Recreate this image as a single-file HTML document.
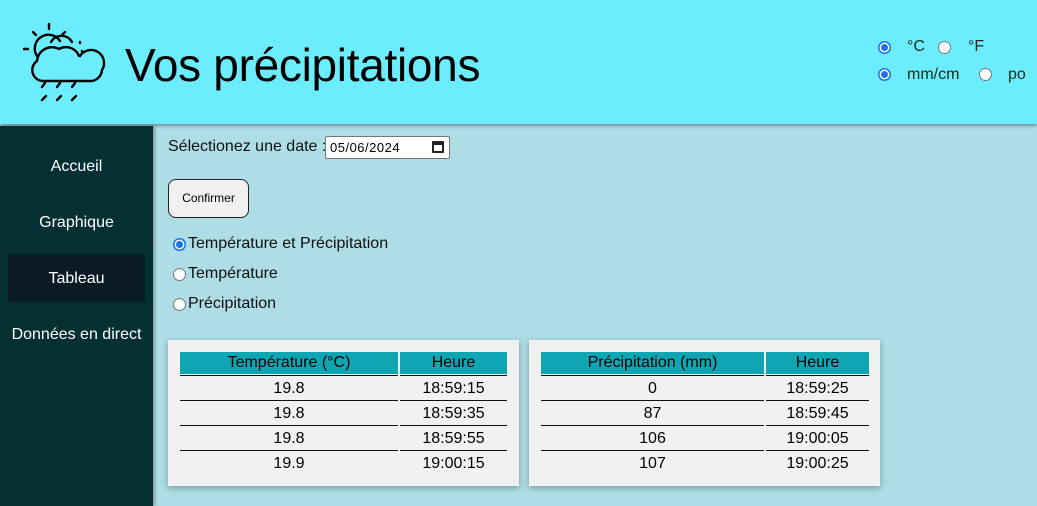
<!DOCTYPE html>
<html><head><meta charset="utf-8">
<style>
*{box-sizing:border-box;margin:0;padding:0}
body{width:1037px;height:506px;overflow:hidden;background:#aedde5;font-family:"Liberation Sans",sans-serif;position:relative;color:#000}
.abs{position:absolute}
#header{left:0;top:0;width:1037px;height:124px;background:#6cedfd;box-shadow:0 2px 3px rgba(0,0,0,0.35)}
#title{left:125px;top:37px;font-size:46px;line-height:56px;letter-spacing:-0.3px}
.rad{width:13px;height:13px;border-radius:50%;border:1px solid #777;background:#fff}
.rad.on{border:none;background:#fff;box-shadow:inset 0 0 0 1.5px #1a73e8, inset 0 0 0 3px #fff, inset 0 0 0 7px #1a73e8}
.unit{font-size:16px;line-height:18px;color:#1a2a1a}
#sidebar{left:0;top:126px;width:153px;height:380px;background:#042f33;box-shadow:2px 0 3px rgba(0,0,0,0.3)}
.nav{left:0;width:153px;text-align:center;color:#fff;font-size:16px;line-height:20px}
#active{left:8px;top:254px;width:137px;height:48px;background:#0a1b25}
.lbl{font-size:16px;line-height:20px;color:#111}
#date{left:325px;top:136px;width:125px;height:23px;background:#fff;border:1px solid #767676;border-radius:2px;font-size:13px;padding:3px 0 0 4px;letter-spacing:0.5px}
#btn{left:168px;top:179px;width:81px;height:39px;border:1px solid #222;border-radius:8px;background:#f0f0f0;font-size:12px;text-align:center;line-height:37px}
.card{top:340px;width:351px;height:146px;background:#f1f1f1;box-shadow:0 2px 6px rgba(0,0,0,0.3)}
.th{top:12px;height:22px;background:#10a5b2;font-size:16px;line-height:22px;text-align:center;color:#000}
.td{height:25px;font-size:16px;line-height:25px;text-align:center;border-top:1.5px solid #111}
</style></head><body>
<div id="header" class="abs">
<svg class="abs" style="left:22px;top:22px" width="84" height="84" viewBox="0 0 84 84" fill="none" stroke="#000" stroke-width="2.4" stroke-linecap="round">
<line x1="27" y1="2" x2="27" y2="7"/><line x1="11" y1="10" x2="14" y2="13"/><line x1="43" y1="10" x2="40" y2="13"/><line x1="2" y1="27" x2="6" y2="27"/>
<path d="M15 34 A13 13 0 0 1 38 19"/><path d="M29 20 A12 12 0 0 1 50 20"/>
<path d="M58 34 A12 12 0 0 1 80 48 A12 12 0 0 1 70 59 L22 59 A11 11 0 0 1 15 39 A15 15 0 0 1 37 27 A14 14 0 0 1 57 34"/>
<line x1="23" y1="61" x2="20" y2="65"/><line x1="38" y1="61" x2="35" y2="65"/><line x1="53" y1="61" x2="50" y2="65"/>
<line x1="24" y1="74" x2="20" y2="78"/><line x1="39" y1="74" x2="35" y2="78"/><line x1="54" y1="74" x2="50" y2="78"/>
<line x1="58" y1="20" x2="58" y2="21"/><line x1="60" y1="29" x2="60" y2="30"/>
</svg>
<div id="title" class="abs">Vos précipitations</div>
<div class="abs rad on" style="left:878px;top:41px"></div>
<div class="abs unit" style="left:907px;top:38px">°C</div>
<div class="abs rad" style="left:938px;top:41px"></div>
<div class="abs unit" style="left:968px;top:38px">°F</div>
<div class="abs rad on" style="left:878px;top:68px"></div>
<div class="abs unit" style="left:907px;top:66px">mm/cm</div>
<div class="abs rad" style="left:979px;top:68px"></div>
<div class="abs unit" style="left:1008px;top:66px">po</div>
</div>
<div id="sidebar" class="abs"></div>
<div id="active" class="abs"></div>
<div class="abs nav" style="top:157px">Accueil</div>
<div class="abs nav" style="top:213px">Graphique</div>
<div class="abs nav" style="top:269px">Tableau</div>
<div class="abs nav" style="top:325px">Données en direct</div>

<div class="abs lbl" style="left:168px;top:137px">Sélectionez une date :</div>
<div id="date" class="abs">05/06/2024<span style="position:absolute;right:5px;top:4px;width:12px;height:12px;border:2px solid #222;border-top-width:4px;border-radius:1px"></span></div>
<div id="btn" class="abs">Confirmer</div>
<div class="abs rad on" style="left:173px;top:238px"></div>
<div class="abs lbl" style="left:188px;top:234px">Température et Précipitation</div>
<div class="abs rad" style="left:173px;top:268px"></div>
<div class="abs lbl" style="left:188px;top:264px">Température</div>
<div class="abs rad" style="left:173px;top:298px"></div>
<div class="abs lbl" style="left:188px;top:294px">Précipitation</div>

<div class="abs card" style="left:168px">
<div class="abs th" style="left:12px;width:218px">Température (°C)</div>
<div class="abs th" style="left:232px;width:107px">Heure</div>
<div class="abs" style="left:12px;top:35px;width:218px">
<div class="td">19.8</div><div class="td">19.8</div><div class="td">19.8</div><div class="td">19.9</div></div>
<div class="abs" style="left:232px;top:35px;width:107px">
<div class="td">18:59:15</div><div class="td">18:59:35</div><div class="td">18:59:55</div><div class="td">19:00:15</div></div>
</div>
<div class="abs card" style="left:529px">
<div class="abs th" style="left:12px;width:223px">Précipitation (mm)</div>
<div class="abs th" style="left:237px;width:103px">Heure</div>
<div class="abs" style="left:12px;top:35px;width:223px">
<div class="td">0</div><div class="td">87</div><div class="td">106</div><div class="td">107</div></div>
<div class="abs" style="left:237px;top:35px;width:103px">
<div class="td">18:59:25</div><div class="td">18:59:45</div><div class="td">19:00:05</div><div class="td">19:00:25</div></div>
</div>
</body></html>
